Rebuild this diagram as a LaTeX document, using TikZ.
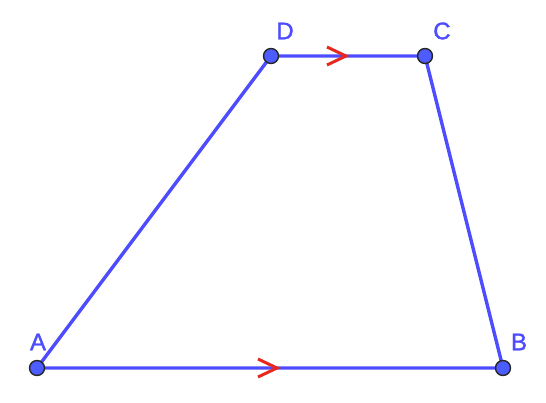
\documentclass[tikz,border=0pt]{standalone}
\usepackage{fontspec}
\setmainfont{Liberation Sans}
\definecolor{gblue}{RGB}{77,77,255}
\definecolor{gdot}{RGB}{77,92,255}
\definecolor{gred}{RGB}{230,40,30}
\begin{document}
\begin{tikzpicture}[x=1pt,y=-1pt,
  side/.style={draw=gblue,line width=3.4pt},
  pt/.style={circle,fill=gdot,draw=black!85,line width=1.4pt,inner sep=0pt,minimum size=15pt},
  lbl/.style={text=gblue,font=\fontsize{24}{24}\selectfont,inner sep=0pt},
  par/.style={draw=gred,line width=3pt,line join=miter}]
\useasboundingbox (0,0) rectangle (546,402);
\coordinate (A) at (37,368);
\coordinate (B) at (503,368);
\coordinate (C) at (425,56);
\coordinate (D) at (271,56);
\draw[side] (A) -- (B) -- (C) -- (D) -- cycle;
% parallel marks
\coordinate (m1) at (277,368);
\coordinate (m2) at (346,56);
\draw[par] ([shift={(-19,-9)}]m1) -- (m1) -- ([shift={(-19,9)}]m1);
\draw[par] ([shift={(-19,-9)}]m2) -- (m2) -- ([shift={(-19,9)}]m2);
\node[pt] (pA) at (A) {};
\node[pt] (pB) at (B) {};
\node[pt] (pC) at (C) {};
\node[pt] (pD) at (D) {};
\node[lbl] (lA) at (38,342) {\addfontfeature{FakeBold=1.5}A};
\node[lbl] (lB) at (519,342) {\addfontfeature{FakeBold=1.5}B};
\node[lbl] (lC) at (442,31) {\addfontfeature{FakeBold=1.5}C};
\node[lbl] (lD) at (285,31) {\addfontfeature{FakeBold=1.5}D};
\end{tikzpicture}
\end{document}
